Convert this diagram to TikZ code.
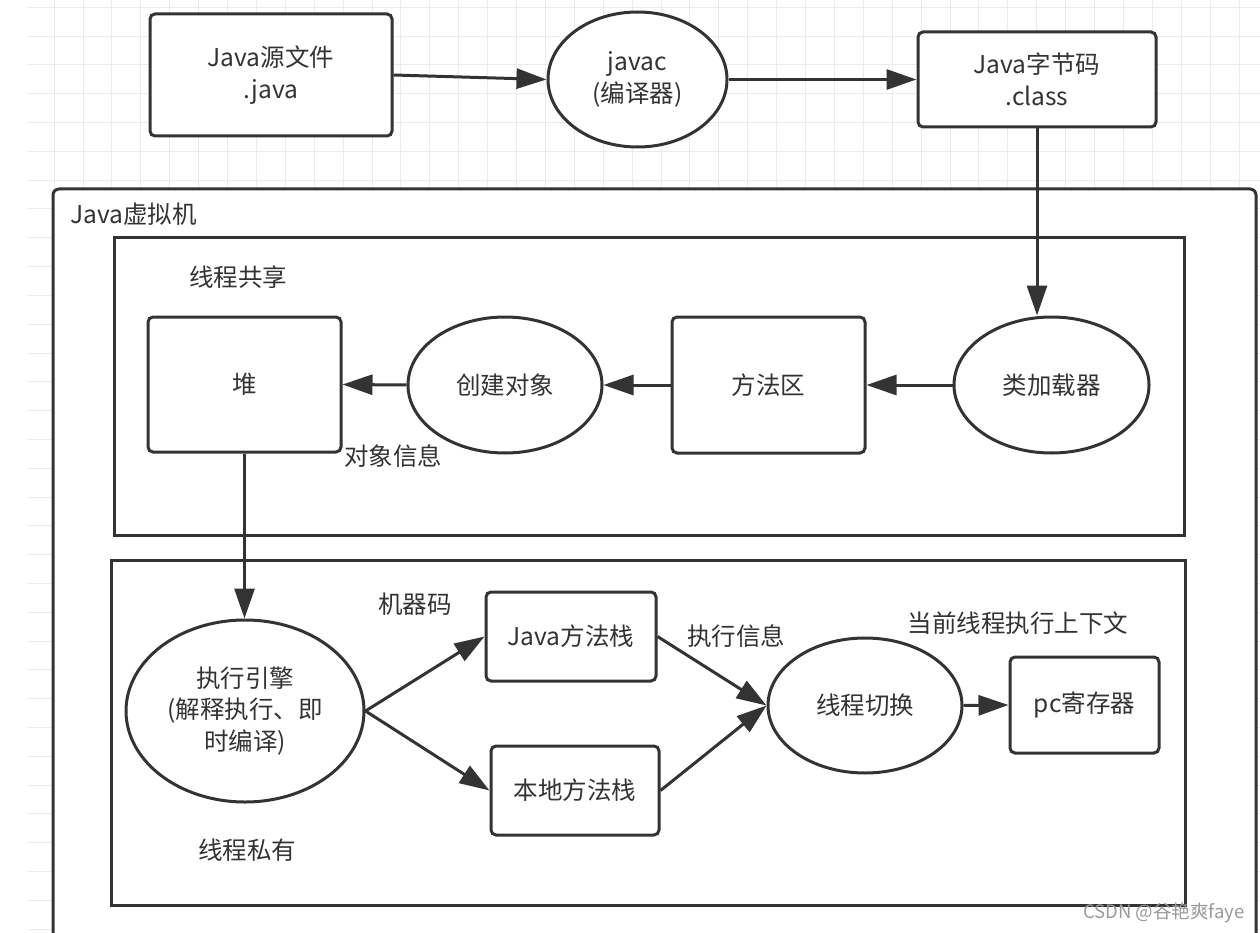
\documentclass[tikz,border=0pt]{standalone}
\usepackage{fontspec}
\setmainfont{Noto Sans CJK SC}
\usetikzlibrary{arrows.meta,shapes.geometric}
\definecolor{ink}{HTML}{333333}
\definecolor{gridc}{HTML}{EBEBEB}
\definecolor{wm}{HTML}{9A9A9A}
\begin{document}
\begin{tikzpicture}[x=1pt,y=-1pt,
  every node/.style={font=\fontsize{24.5}{31.5}\selectfont, text=ink, align=center, inner sep=0pt},
  box/.style={draw=ink, line width=3pt, rounded corners=5pt, fill=white},
  oval/.style={draw=ink, line width=3pt, ellipse, fill=white},
  frame/.style={draw=ink, line width=3pt},
  arr/.style={draw=ink, line width=3pt, -{Triangle[length=30pt,width=20pt]}},
  lbl/.style={}]
\useasboundingbox (0,0) rectangle (1260,933);
\clip (0,0) rectangle (1260,933);
% background grid
\foreach \k in {0,...,41} {\draw[gridc, line width=0.8pt] ({54+28.9*\k},0) -- ({54+28.9*\k},933);}
\foreach \k in {0,...,32} {\draw[gridc, line width=0.8pt] (28,{7.3+28.8*\k}) -- (1260,{7.3+28.8*\k});}
\fill[white] (0,0) rectangle (28,933);
% top row
\node[box, minimum width=242pt, minimum height=122pt] (src) at (271,75) {Java源文件\\.java};
\node[oval, minimum width=179pt, minimum height=135pt] (javac) at (637.5,79.5) {javac\\(编译器)};
\node[box, minimum width=238pt, minimum height=95pt] (bytecode) at (1037,79.5) {Java字节码\\.class};
% frames
\draw[frame, rounded corners=6pt, fill=white] (53,189) rectangle (1256,980);
\node[lbl, anchor=west] (jvmlabel) at (70,214) {Java虚拟机};
\draw[frame] (114,238) rectangle (1184,535);
\draw[frame] (111,560) rectangle (1185,905);
% shared area
\node[lbl] (sharedlabel) at (238,277) {线程共享};
\node[box, minimum width=193pt, minimum height=135pt] (heap) at (244.5,384.5) {堆};
\node[oval, minimum width=194pt, minimum height=136pt] (create) at (505,385) {创建对象};
\node[lbl] (objinfo) at (393,456) {对象信息};
\node[box, minimum width=193pt, minimum height=136pt] (method) at (768.5,385) {方法区};
\node[oval, minimum width=195pt, minimum height=136pt] (loader) at (1051.5,385) {类加载器};
% private area
\node[oval, minimum width=238pt, minimum height=182pt] (engine) at (245,711) {执行引擎\\(解释执行、即\\时编译)};
\node[lbl] (mcode) at (415,604) {机器码};
\node[box, minimum width=170pt, minimum height=89pt] (jstack) at (571,636.5) {Java方法栈};
\node[box, minimum width=168pt, minimum height=89pt] (nstack) at (575,790.5) {本地方法栈};
\node[oval, minimum width=194pt, minimum height=135pt] (switch) at (865,705.5) {线程切换};
\node[lbl] (execinfo) at (736,636) {执行信息};
\node[lbl] (ctx) at (1018,623) {当前线程执行上下文};
\node[box, minimum width=149pt, minimum height=96pt] (pc) at (1084.5,705) {pc寄存器};
\node[lbl] (privlabel) at (247,850) {线程私有};
% connectors
\draw[arr] (src.east) -- (javac.west);
\draw[arr] (javac.east) -- (bytecode.west);
\draw[arr] (bytecode.south) -- (bytecode.south |- loader.north);
\draw[arr] (loader.west) -- (method.east);
\draw[arr] (method.west) -- (create.east);
\draw[arr] (create.west) -- (heap.east);
\draw[arr] (heap.south) -- (heap.south |- engine.north);
\draw[arr] (engine.east) -- (jstack.west);
\draw[arr] (engine.east) -- (nstack.west);
\draw[arr] (jstack.east) -- (switch.west);
\draw[arr] (nstack.east) -- (switch.west);
\draw[arr] (switch.east) -- (pc.west);
% watermark
\node[font=\fontsize{18.5}{21}\selectfont, text=wm] (watermark) at (1164,913) {CSDN @谷艳爽faye};
\end{tikzpicture}
\end{document}
